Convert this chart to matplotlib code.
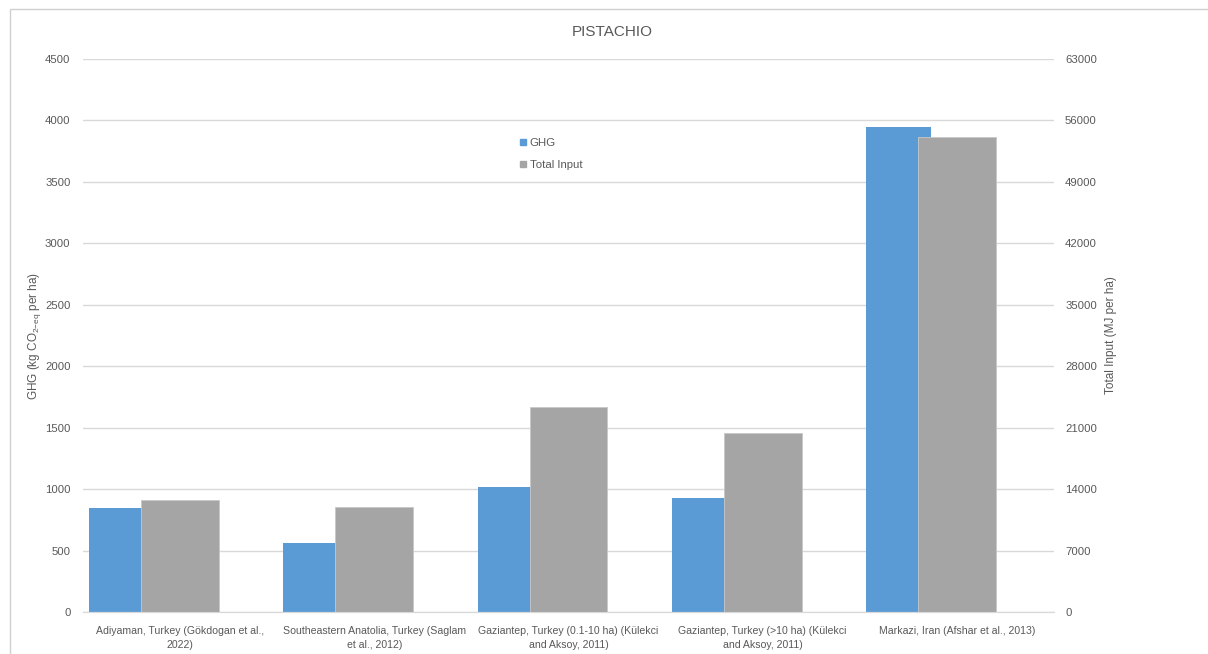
import matplotlib.pyplot as plt
import numpy as np
from matplotlib.lines import Line2D
from matplotlib.patches import Rectangle

plt.rcParams['font.family'] = ['Liberation Sans', 'DejaVu Sans']
plt.rcParams['mathtext.fontset'] = 'custom'
plt.rcParams['mathtext.rm'] = 'Liberation Sans'
plt.rcParams['mathtext.it'] = 'Liberation Sans:italic'

# Pistachio studies: GHG emissions and total energy input per hectare
sites = [
    "Adiyaman, Turkey (Gökdogan et al.,\n2022)",
    "Southeastern Anatolia, Turkey (Saglam\net al., 2012)",
    "Gaziantep, Turkey (0.1-10 ha) (Külekci\nand Aksoy, 2011)",
    "Gaziantep, Turkey (>10 ha) (Külekci\nand Aksoy, 2011)",
    "Markazi, Iran (Afshar et al., 2013)",
]
ghg = [845, 565, 1015, 925, 3950]
total_input = [12760, 11930, 23320, 20360, 54150]

ghg_ticks = np.arange(0, 4501, 500)
input_ticks = np.arange(0, 63001, 7000)

blue = '#5B9BD5'
grey = '#A5A5A5'
text_col = '#595959'
grid_col = '#D9D9D9'

fig = plt.figure(figsize=(12.08, 6.54), dpi=100)
ax = fig.add_axes([0.0687, 0.0642, 0.8038, 0.8456])
ax2 = ax.twinx()

x = np.arange(len(sites))
ax.bar(x - 0.30, ghg, width=0.335, color=blue, zorder=2)
ax2.bar(x, total_input, width=0.40, color=grey, edgecolor='#C8C8C8',
        linewidth=0.6, zorder=2)

ax.set_xlim(-0.5, len(sites) - 0.5)
ax.set_ylim(0, 4500)
ax2.set_ylim(0, 63000)

ax.grid(axis='y', color=grid_col, linewidth=1, zorder=0)
ax.set_axisbelow(True)
for a in (ax, ax2):
    for side in ('left', 'right', 'top'):
        a.spines[side].set_visible(False)
    a.spines['bottom'].set_color(grid_col)
    a.tick_params(length=0, labelsize=8.2, labelcolor=text_col)
ax.tick_params(axis='y', pad=9)
ax2.tick_params(axis='y', pad=8)
ax.tick_params(axis='x', pad=10)

ax.set_yticks(ghg_ticks)
ax2.set_yticks(input_ticks)
ax.set_xticks(x)
ax.set_xticklabels(sites, fontsize=7.6, color=text_col, linespacing=1.55)

ax.set_ylabel(r"GHG (kg CO$_{2\mathrm{-eq}}$ per ha)", fontsize=8.5,
              color=text_col, labelpad=1.5)
ax2.set_ylabel("Total Input (MJ per ha)", fontsize=8.5, color=text_col,
               labelpad=6)

fig.text(0.507, 0.951, "PISTACHIO", ha='center', va='center',
         fontsize=11, color=text_col)

handles = [Line2D([], [], marker='s', linestyle='', color=blue, markersize=5),
           Line2D([], [], marker='s', linestyle='', color=grey, markersize=5)]
ax2.legend(handles, ['GHG', 'Total Input'], loc='upper left',
           bbox_to_anchor=(0.439, 0.876), frameon=False, fontsize=8.2,
           labelcolor=text_col, handlelength=0.6, handletextpad=0.3,
           labelspacing=1.1)

# chart area border
fig.patches.append(Rectangle((10 / 1208, -0.1), 1.2, 1 - 9 / 654 + 0.1,
                             transform=fig.transFigure, fill=False,
                             edgecolor='#D0D0D0', linewidth=1))

fig.savefig('out.png', dpi=100)
